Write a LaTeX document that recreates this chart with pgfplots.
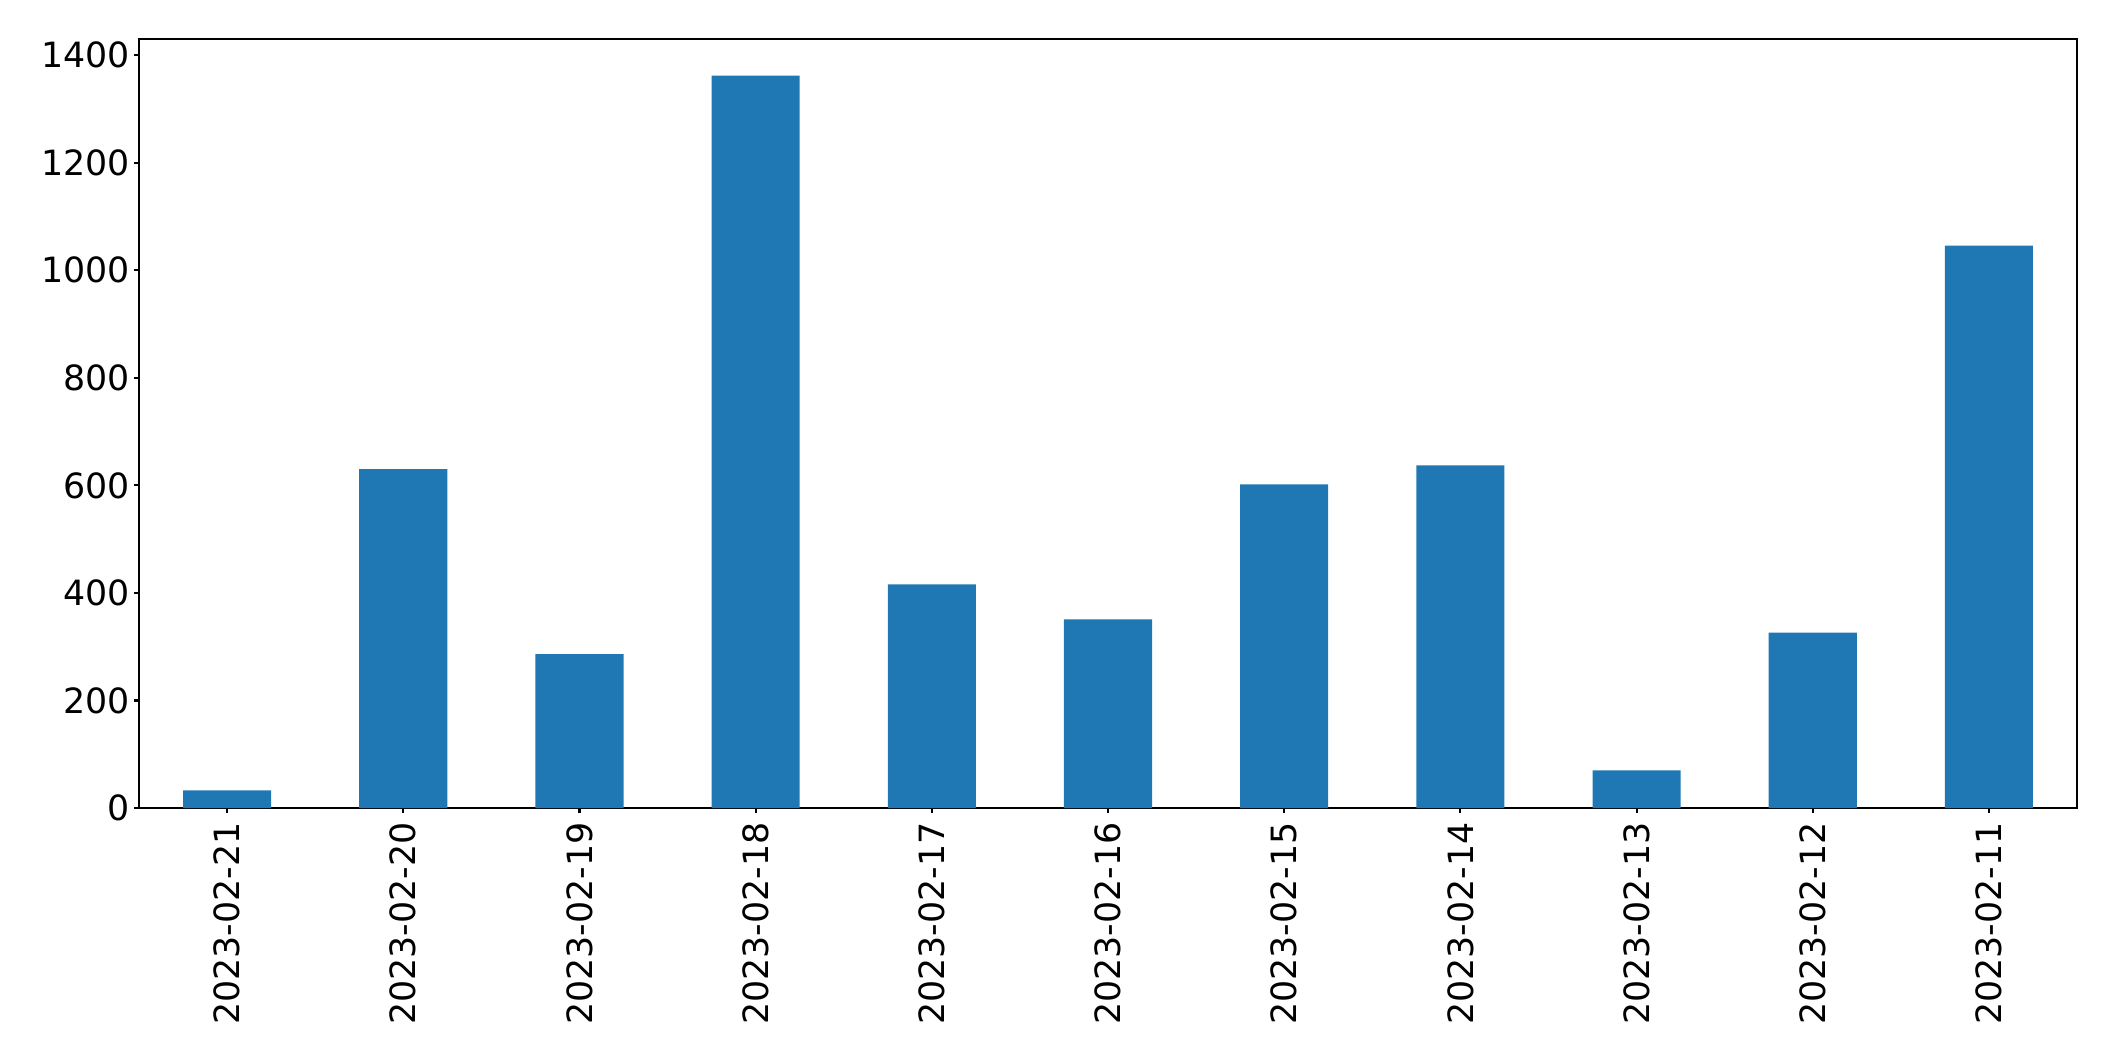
\documentclass[border=0pt]{standalone}
\usepackage{pgfplots}
\pgfplotsset{compat=1.18}
\usepackage{fontspec}
\setmainfont{DejaVu Sans}
\definecolor{mplblue}{HTML}{1F77B4}
\begin{document}
\begin{tikzpicture}
\useasboundingbox (0,0) rectangle (21.15cm,10.61cm);
\begin{axis}[
  at={(1.39cm,2.53cm)}, anchor=south west,
  scale only axis, width=19.38cm, height=7.69cm,
  xmin=-0.5, xmax=10.5, ymin=0, ymax=1430.1,
  xtick={0,1,2,3,4,5,6,7,8,9,10},
  xticklabels={2023-02-21,2023-02-20,2023-02-19,2023-02-18,2023-02-17,2023-02-16,2023-02-15,2023-02-14,2023-02-13,2023-02-12,2023-02-11},
  ytick={0,200,400,600,800,1000,1200,1400},
  yticklabels={0,200,400,600,800,1000,1200,1400},
  tick align=outside, tick pos=left,
  major tick length=0.047cm,
  axis line style={line width=0.6pt},
  every tick/.style={black, line width=0.6pt},
  tick label style={font=\fontsize{9.9}{11}\selectfont, inner sep=0pt},
  x tick label style={rotate=90, anchor=east, xshift=-0.09cm},
  y tick label style={xshift=-0.035cm},
]
\addplot[ybar, bar width=0.5, fill=mplblue, draw=none] coordinates {
(0,33) (1,630) (2,286) (3,1362) (4,416) (5,351) (6,602) (7,637) (8,70) (9,326) (10,1046)
};
\end{axis}
\end{tikzpicture}
\end{document}
